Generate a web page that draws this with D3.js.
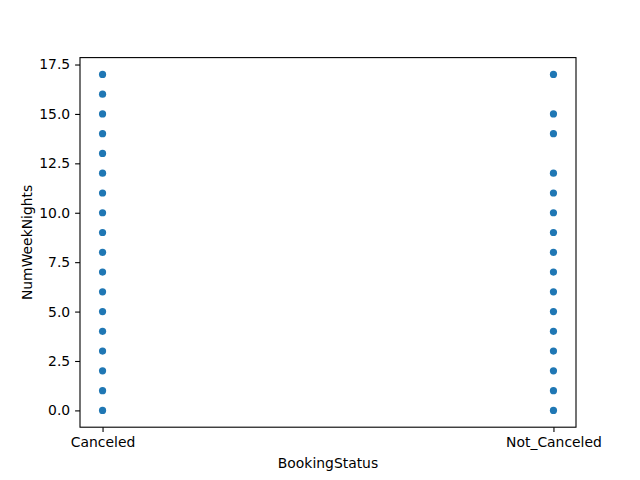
<html>
<head>
<script src="https://cdn.jsdelivr.net/npm/d3@7"></script>
<style>
  body { margin: 0; background: white; }
  text { font-family: "DejaVu Sans", sans-serif; }
</style>
</head>
<body>
<svg id="chart" width="640" height="480"></svg>
<script>
  var categories = ["Canceled", "Not_Canceled"];
  var canceledNights = [0,1,2,3,4,5,6,7,8,9,10,11,12,13,14,15,16,17];
  var notCanceledNights = [0,1,2,3,4,5,6,7,8,9,10,11,12,14,15,17];
  var yTicks = [0,2.5,5,7.5,10,12.5,15,17.5];

  var points = [];
  canceledNights.forEach(function(v){ points.push({c: 0, v: v}); });
  notCanceledNights.forEach(function(v){ points.push({c: 1, v: v}); });

  var svg = d3.select("#chart");
  var mLeft = 80, mRight = 576, mTop = 57.6, mBottom = 427.2;

  var x = d3.scaleLinear().domain([-0.05, 1.05]).range([mLeft, mRight]);
  var y = d3.scaleLinear().domain([-0.85, 17.85]).range([mBottom, mTop]);

  svg.selectAll("circle").data(points).enter().append("circle")
    .attr("cx", function(d){ return x(d.c); })
    .attr("cy", function(d){ return y(d.v); })
    .attr("r", 3.6)
    .attr("fill", "#1f77b4");

  var xAxis = svg.append("g").attr("transform", "translate(0," + mBottom + ")")
    .call(d3.axisBottom(x).tickValues([0, 1]).tickFormat(function(d){ return categories[d]; }).tickSize(4.9).tickPadding(4.9));
  var yAxis = svg.append("g").attr("transform", "translate(" + mLeft + ",0)")
    .call(d3.axisLeft(y).tickValues(yTicks).tickFormat(d3.format(".1f")).tickSize(4.9).tickPadding(4.9));
  [xAxis, yAxis].forEach(function(a){
    a.selectAll("text").attr("font-size", 13.9).attr("font-family", "DejaVu Sans").attr("fill", "black");
    a.select(".domain").remove();
    a.selectAll(".tick line").attr("stroke", "black").attr("stroke-width", 1.1);
  });

  svg.append("rect").attr("x", mLeft).attr("y", mTop)
    .attr("width", mRight - mLeft).attr("height", mBottom - mTop)
    .attr("fill", "none").attr("stroke", "black").attr("stroke-width", 1.1);

  svg.append("text").attr("x", (mLeft + mRight) / 2).attr("y", 468)
    .attr("text-anchor", "middle").attr("font-size", 13.9).text("BookingStatus");
  svg.append("text").attr("transform", "translate(32," + (mTop + mBottom) / 2 + ") rotate(-90)")
    .attr("text-anchor", "middle").attr("font-size", 13.9).text("NumWeekNights");
</script>
</body>
</html>
